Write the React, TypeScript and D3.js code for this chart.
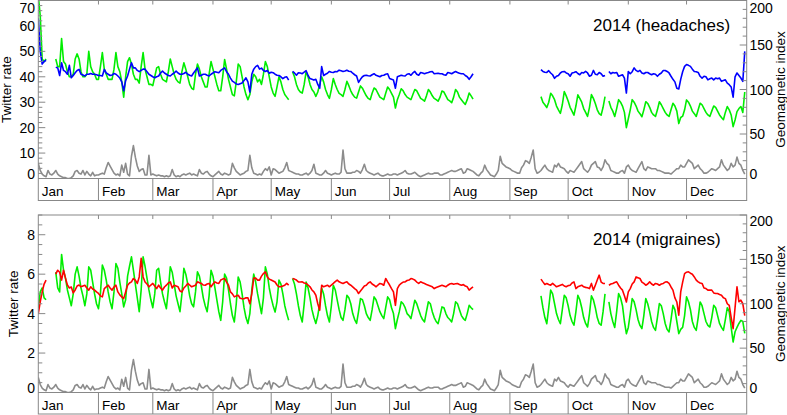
import React from 'react';
import * as d3 from 'd3';

const N = null;

const MONTHS = ['Jan', 'Feb', 'Mar', 'Apr', 'May', 'Jun', 'Jul', 'Aug', 'Sep', 'Oct', 'Nov', 'Dec'];

// Daily values for 2014 (index 0 = Jan 1). null = no data.
const headacheAdjusted: (number | null)[] = [
  63, 50, 45, 46, 46.5, N, N,
  N, N, 43.8, 43.5, 40.5, 45.5, 42.5,
  42, 41, 44.5, 39.6, 40.5, 41.6, 42.5,
  42.9, 41, 40.7, 40.3, 41, 41, 41.3,
  41, 41, 40.8, 40.5, 40.5, 40.3, 42.9,
  41.5, 41, 40.5, 40.7, 41.3, 41, 40.3,
  39.5, 38, 34.5, 38.5, 40.3, 43, 45.5,
  43.5, 43.5, 42.5, 42, 42.5, 43, 43,
  42, 41, 40.5, 40, 39.6, 40, 40.3,
  41.5, 42.2, 41.5, 41, 40.5, 40.3, 41,
  41.5, 42.2, 41.5, 41, 41, 41.3, 41.8,
  41, 40.6, 40.3, 41.5, 42.5, 43.5, 40.3,
  40.6, 41, 41, 40.6, 40.3, 41, 41.5,
  42, 41.8, 41.6, 42.5, 43, 43.5, 42,
  41, 39.5, 38.3, 37.8, 37.2, 37, 37.3,
  37.6, 38.5, 39.6, 38, 34, 41, 43,
  44, 44.5, 43, 43.4, 42.5, 42.1, 42.5,
  41.4, 41.8, 41.6, 41, 40.6, 40.5, 40,
  39.3, 39.8, 40, 38.7, N, 42.1, 41.5,
  40.6, 41.6, 41.5, 41.2, 41.8, 42.4, 40.5,
  39.3, 39, 38.7, 39, 37, 35.5, 44,
  40.5, 41, 41.4, 42.1, 41.8, 41.7, 42.1,
  42, 42.6, 42.4, 42.1, 42.3, 42.6, 42.2,
  42.1, 41.4, 40.8, 40.3, 37.8, 39, 40,
  40.5, 40.6, 40.4, 40.3, 40.8, 41.2, 40.6,
  40.3, 40, 40.5, 40.6, 41, 41.2, 39.3,
  39, 38.7, 35.5, 40, 40.3, 40.6, 40.4,
  40.3, 41, 41.2, 40.6, 41.5, 42.1, 41,
  40.6, 41.7, 41.5, 41.2, 41.5, 41.7, 42,
  42.1, 41.2, 41.3, 41.4, 41.2, 41.2, 40.8,
  40.6, 41.7, 41.5, 41.2, 41.7, 42.1, 41.7,
  41.4, 41.2, 41.2, 40.5, 40, 39, 40,
  41.2, N, N, N, N, N, N,
  N, N, N, N, N, N, N,
  N, N, N, N, N, N, N,
  N, N, N, N, N, N, N,
  N, N, N, N, N, N, N,
  42.8, 42.1, 41.8, 41.7, 42.4, 41.5, 40.8,
  39.4, 40.2, 40.5, 41.5, 42, 42.1, 41.5,
  41.2, 40.2, 41.5, 41.7, 42, 41.3, 40.8,
  41.7, 41.5, 42.1, 41.5, 40.2, 40.6, 42.5,
  41, 40.8, 41.7, 41.2, 40.2, 40.5, N,
  42.1, 41.2, 41.7, 41.5, 41.7, 40.2, 40.5,
  40.8, 39.5, 33.6, 42.1, 41.2, 42, 43.5,
  42.5, 42, 42.5, 41.5, 41.2, 41.7, 41.7,
  41.2, 40.8, 41.2, 41, 40.2, 41, 41.5,
  42.5, 42.5, 42.1, 41.5, 40.2, 39, 38,
  35.5, 35.2, 39, 42, 44.1, 44.8, 44.5,
  44.1, 43, 42.1, 42, 41.7, 40.2, 39.5,
  40.2, 40, 38.8, 39.2, 39.5, 38.8, 39.5,
  39.2, 39.5, 38.2, 38.5, 38.8, 37.5, 36.9,
  36, 32, 40, 41.5, 40.5, 39.5, 38.2,
  50,
];

const headacheRaw: (number | null)[] = [
  72, 64, 47, 46, 47, N, N,
  N, N, 47, 44, 44, 55, 46,
  45, 42, 40, 40, 41, 47, 49,
  47, 42, 40, 40, 41, 50, 44,
  42, 41, 39, 39, 44, 49.5, 43,
  41, 39, 39, 39, 43, 49.5, 44,
  42, 38, 32, 40, 46, 47.5, 45,
  41, 39, 39, 37.5, 44, 49.5, 43,
  40, 37, 37, 36.5, 40, 43.5, 44,
  41, 39, 38.5, 38, 42, 47, 44,
  41, 39, 38, 37.5, 42, 45.5, 43,
  40, 37, 35.5, 35, 41, 45, 43,
  40, 38, 36, 36, 41, 46, 43,
  40, 37, 34.5, 34.5, 40, 46.8, 43,
  39, 36, 33, 32.5, 38, 45, 44,
  40, 36, 33, 31, 33, 38, 41,
  40, 38, 39, 37, 41, 46, 44,
  40, 36, 33.6, 32.3, 36, 40, 38,
  35, 33, 32, 31, N, 42, 40,
  37, 35, 34, 33.6, 37, 42, 40,
  37, 35, 34, 32.3, 34, 37, 40,
  38, 35, 33, 31.5, 35, 39.3, 37,
  35, 33.5, 33, 32.3, 35, 38.2, 36.5,
  34.5, 33, 32, 31.6, 34, 36.4, 35.5,
  34, 32.5, 31.5, 31, 33.5, 35.6, 35,
  33.5, 32, 31.5, 31, 33.5, 36, 35,
  33.5, 32, 27.7, 31, 33, 35.3, 34.5,
  33, 32, 31.5, 31, 33, 35, 34.5,
  33, 31.5, 31, 30.4, 32.5, 35, 34,
  32.5, 31.5, 31, 30.4, 32, 34.4, 34,
  32.5, 31, 30.5, 29.8, 32, 35, 34,
  32, 31, 30, 29.1, 31, 33.6, 32.5,
  31.2, N, N, N, N, N, N,
  N, N, N, N, N, N, N,
  N, N, N, N, N, N, N,
  N, N, N, N, N, N, N,
  N, N, N, N, N, N, N,
  32.2, 30, 29, 27.9, 30, 33.5, 32.5,
  31, 28.5, 27, 25.6, 29, 34.2, 32.5,
  30.5, 28, 26.5, 24.9, 28.5, 32.9, 31.5,
  30, 27.5, 26, 24.4, 28, 33, 31.5,
  29.5, 27, 25.5, 24.9, 28, 32.2, N,
  30.5, 28, 26.5, 24.4, 27.5, 31, 30,
  28.5, 26, 20, 23.5, 27, 31, 30,
  28.5, 26.5, 25.5, 24.3, 27, 30.2, 29.5,
  28, 26, 25, 24.4, 27, 30.2, 29,
  27.5, 26, 25, 24.4, 27, 29.6, 28.5,
  26.5, 21.6, 24, 24.5, 27, 30.9, 30,
  28.5, 26.5, 25.5, 24.4, 27, 29.6, 29,
  27.5, 26, 25, 24.4, 26.5, 28.5, 28,
  26.5, 25, 24, 23.1, 26, 28.3, 27,
  25, 20.4, 23, 26.3, 27.5, 28.3, 26,
  34,
];

const migraineAdjusted: (number | null)[] = [
  4.0, 4.6, 5.1, 5.5, 5.7, N, N,
  N, N, 6.0, 6.2, 6.1, 5.7, 6.2,
  5.8, 5.45, 5.3, 5.35, 5.05, 5.2, 5.4,
  5.45, 5.36, 5.4, 5.44, 5.3, 5.19, 5.36,
  5.25, 5.19, 5.1, 5.02, 4.9, 4.85, 5.27,
  5.35, 5.44, 5.3, 5.19, 5.35, 5.44, 5.1,
  4.95, 4.85, 4.76, 5.1, 5.44, 5.55, 5.61,
  5.78, 5.7, 5.53, 5.86, 6.8, 5.86, 5.6,
  5.5, 5.36, 5.45, 5.53, 5.4, 5.27, 5.44,
  5.3, 5.19, 5.35, 5.44, 5.55, 5.61, 5.3,
  5.44, 5.4, 5.36, 5.15, 5.1, 5.3, 5.4,
  5.53, 5.45, 5.36, 5.4, 5.44, 5.61, 5.57,
  5.53, 5.45, 5.44, 5.5, 5.53, 5.36, 5.5,
  5.61, 5.55, 5.53, 5.7, 5.75, 5.78, 5.6,
  5.44, 5.1, 5.0, 4.85, 4.9, 4.93, 4.78,
  4.76, 4.75, 4.8, 4.8, 4.5, 5.0, 5.8,
  5.8, 5.7, 5.7, 5.9, 6.03, 6.12, 5.86,
  5.75, 5.7, 5.65, 5.6, 5.45, 5.36, 5.36,
  5.4, 5.44, 5.53, 5.44, N, 5.78, 5.75,
  5.7, 5.61, 5.6, 5.61, 5.55, 5.53, 5.45,
  5.36, 5.2, 5.1, 4.93, 4.5, 4.17, 5.44,
  5.36, 5.4, 5.44, 5.36, 5.45, 5.53, 5.62,
  5.7, 5.61, 5.57, 5.53, 5.58, 5.61, 5.5,
  5.44, 5.36, 5.27, 5.19, 5.02, 5.15, 5.27,
  5.4, 5.44, 5.55, 5.61, 5.5, 5.44, 5.36,
  5.45, 5.53, 5.5, 5.44, 5.78, 5.61, 5.45,
  5.27, 5.1, 4.42, 5.27, 5.45, 5.53, 5.6,
  5.61, 5.68, 5.7, 5.78, 5.75, 5.7, 5.6,
  5.53, 5.61, 5.57, 5.53, 5.48, 5.44, 5.4,
  5.36, 5.27, 5.32, 5.36, 5.4, 5.44, 5.4,
  5.36, 5.44, 5.5, 5.53, 5.49, 5.51, 5.53,
  5.48, 5.44, 5.47, 5.4, 5.36, 5.19, 5.28,
  5.36, N, N, N, N, N, N,
  N, N, N, N, N, N, N,
  N, N, N, N, N, N, N,
  N, N, N, N, N, N, N,
  N, N, N, N, N, N, N,
  5.75, 5.61, 5.48, 5.53, 5.48, 5.44, 5.53,
  5.45, 5.36, 5.4, 5.44, 5.48, 5.4, 5.36,
  5.42, 5.44, 5.55, 5.61, 5.27, 5.36, 5.4,
  5.44, 5.36, 5.33, 5.31, 5.27, 5.53, 5.19,
  5.44, 5.7, 5.95, 5.6, 5.53, 5.53, N,
  5.44, 5.5, 5.53, 5.58, 5.61, 5.44, 5.3,
  5.19, 4.9, 4.59, 5.1, 5.27, 5.5, 5.61,
  5.86, 5.82, 5.78, 5.6, 5.53, 5.44, 5.5,
  5.61, 5.5, 5.44, 5.53, 5.5, 5.44, 5.5,
  5.53, 5.6, 5.61, 5.53, 5.35, 5.19, 4.8,
  4.59, 3.92, 5.1, 5.6, 6.03, 6.1, 6.12,
  6.05, 6.0, 5.86, 5.7, 5.61, 5.55, 5.53,
  5.3, 5.27, 5.19, 5.2, 5.19, 5.05, 5.02,
  5.02, 4.97, 4.93, 4.8, 4.76, 4.5, 4.42,
  3.8, 3.24, 4.3, 5.36, 4.6, 4.68, 4.5,
  3.9,
];

const migraineRaw: (number | null)[] = [
  4.3, 5.1, 5.3, 4.8, 4.7, N, N,
  N, N, 6.1, 5.3, 5.1, 7.0, 6.2,
  5.8, 5.2, 4.8, 4.4, 5.0, 6.0, 6.37,
  5.9, 5.3, 4.9, 4.4, 5.0, 6.37, 6.2,
  5.6, 5.0, 4.5, 4.25, 5.0, 6.46, 6.2,
  5.7, 5.1, 4.6, 4.25, 5.1, 6.54, 6.3,
  5.6, 5.0, 4.34, 4.7, 5.9, 6.4, 6.88,
  6.2, 5.5, 4.8, 4.1, 5.2, 6.88, 6.4,
  5.8, 5.2, 4.7, 4.3, 5.0, 6.2, 6.3,
  5.6, 5.0, 4.6, 4.25, 5.2, 6.37, 6.1,
  5.5, 4.9, 4.5, 4.1, 5.0, 6.3, 6.0,
  5.5, 4.9, 4.5, 4.34, 5.1, 6.12, 5.9,
  5.4, 4.8, 4.4, 4.1, 4.9, 6.2, 5.9,
  5.3, 4.7, 4.1, 3.66, 4.6, 6.0, 5.8,
  5.2, 4.5, 3.9, 3.58, 4.5, 5.86, 5.6,
  5.0, 4.3, 3.8, 3.5, 4.0, 5.2, 6.0,
  5.6, 5.0, 4.5, 4.0, 4.8, 6.37, 6.0,
  5.3, 4.8, 4.4, 4.08, 4.6, 5.7, 5.5,
  5.0, 4.4, 4.0, 3.66, N, 5.78, 5.5,
  5.0, 4.4, 3.9, 3.58, 4.5, 5.6, 5.3,
  4.8, 4.2, 3.8, 3.5, 3.9, 4.5, 5.3,
  5.0, 4.4, 3.9, 3.58, 4.4, 5.44, 5.2,
  4.7, 4.2, 3.8, 3.66, 4.2, 4.93, 4.8,
  4.5, 4.0, 3.7, 3.5, 4.1, 4.76, 4.7,
  4.4, 4.0, 3.8, 3.66, 4.2, 4.85, 4.7,
  4.4, 4.1, 3.9, 3.75, 4.3, 4.85, 4.7,
  4.3, 4.0, 3.24, 3.7, 4.1, 4.6, 4.5,
  4.3, 4.0, 3.9, 3.75, 4.2, 4.68, 4.5,
  4.2, 3.9, 3.7, 3.58, 4.1, 4.6, 4.5,
  4.1, 3.8, 3.6, 3.49, 3.9, 4.34, 4.3,
  4.0, 3.8, 3.7, 3.58, 4.0, 4.6, 4.5,
  4.2, 3.9, 3.75, 3.66, 4.0, 4.42, 4.3,
  4.2, N, N, N, N, N, N,
  N, N, N, N, N, N, N,
  N, N, N, N, N, N, N,
  N, N, N, N, N, N, N,
  N, N, N, N, N, N, N,
  4.9, 4.3, 3.8, 3.49, 4.3, 5.19, 5.0,
  4.5, 4.0, 3.7, 3.49, 4.2, 4.93, 4.8,
  4.4, 3.9, 3.6, 3.41, 4.1, 4.93, 4.7,
  4.3, 3.8, 3.5, 3.32, 4.0, 4.9, 4.7,
  4.3, 3.8, 3.5, 3.41, 4.1, 5.0, N,
  4.6, 4.0, 3.6, 3.3, 4.1, 5.02, 4.8,
  4.4, 3.6, 2.98, 3.3, 4.0, 4.76, 4.6,
  4.2, 3.7, 3.4, 3.24, 3.9, 4.76, 4.5,
  4.1, 3.6, 3.3, 3.15, 3.8, 4.51, 4.4,
  4.0, 3.5, 3.2, 3.07, 3.7, 4.42, 4.2,
  3.6, 2.98, 3.2, 3.3, 3.9, 4.85, 4.6,
  4.2, 3.6, 3.3, 3.15, 3.8, 4.59, 4.4,
  4.0, 3.6, 3.4, 3.32, 3.8, 4.42, 4.3,
  3.9, 3.5, 3.3, 3.15, 3.7, 4.3, 4.1,
  3.3, 2.56, 3.08, 3.3, 3.5, 3.66, 3.6,
  3.0,
];

const geomagneticIndex: number[] = [
  17, 9, 5, 3, 2, 9, 5, 4, 6, 9,
  5, 3, 2, 1, 1, 0, 0, 1, 3, 8,
  9, 6, 5, 9, 4, 8, 5, 3, 7, 3,
  4, 4, 5, 6, 5, 12, 18, 14, 10, 6,
  4, 5, 3, 15, 7, 17, 5, 3, 25, 37,
  24, 14, 8, 10, 11, 4, 4, 26, 4, 5,
  4, 3, 4, 3, 3, 2, 3, 2, 3, 10,
  4, 2, 3, 2, 4, 5, 4, 5, 6, 4,
  5, 4, 3, 10, 6, 5, 7, 8, 5, 3,
  2, 4, 6, 8, 5, 4, 6, 5, 4, 5,
  17, 12, 8, 6, 4, 5, 6, 8, 9, 26,
  12, 6, 5, 4, 5, 4, 8, 11, 9, 13,
  4, 11, 10, 8, 6, 7, 8, 12, 18, 9,
  8, 7, 6, 5, 5, 4, 4, 5, 6, 4,
  6, 9, 16, 6, 5, 4, 4, 6, 9, 6,
  5, 4, 5, 6, 5, 5, 7, 32, 11, 6,
  6, 6, 7, 7, 9, 8, 6, 10, 16, 9,
  7, 6, 5, 4, 5, 6, 4, 3, 3, 4,
  5, 4, 4, 5, 5, 4, 5, 6, 7, 9,
  6, 5, 5, 6, 7, 5, 3, 2, 3, 4,
  5, 6, 5, 5, 6, 6, 6, 4, 4, 5,
  6, 7, 8, 9, 8, 8, 9, 10, 11, 6,
  7, 11, 10, 9, 8, 6, 4, 3, 6, 8,
  15, 10, 7, 4, 3, 2, 5, 9, 25, 17,
  15, 13, 12, 11, 9, 8, 7, 6, 6, 12,
  15, 20, 19, 17, 24, 32, 11, 6, 7, 9,
  12, 15, 11, 9, 8, 7, 15, 13, 17, 13,
  12, 11, 8, 6, 9, 8, 7, 10, 13, 16,
  19, 11, 9, 7, 10, 15, 17, 19, 13, 12,
  9, 13, 21, 17, 15, 9, 8, 7, 6, 6,
  8, 9, 6, 13, 15, 11, 9, 8, 7, 11,
  15, 19, 11, 9, 13, 12, 11, 11, 11, 9,
  9, 8, 7, 6, 6, 6, 5, 7, 9, 11,
  11, 15, 13, 13, 17, 21, 19, 17, 11, 13,
  15, 11, 9, 6, 6, 7, 9, 11, 10, 9,
  11, 13, 21, 15, 12, 9, 11, 17, 13, 15,
  24, 17, 15, 9, 5,
];

const headacheLeftTicks = [0, 10, 20, 30, 40, 50, 60, 70];
const migraineLeftTicks = [0, 2, 4, 6, 8];
const rightTicks = [0, 50, 100, 150, 200];

const FONT = "'Liberation Sans', Arial, Helvetica, sans-serif";
const X0 = 38.3;
const X1 = 746.7;
const FRAME = '#888888';

const start = new Date(Date.UTC(2014, 0, 1));
const end = new Date(Date.UTC(2015, 0, 1));
const dayDate = (i: number) => new Date(Date.UTC(2014, 0, 1 + i));

type PanelProps = {
  id: string;
  top: number;
  bottom: number;
  band: number;
  leftMax: number;
  leftTicks: number[];
  leftMinor: number;
  title: string;
  leftTitleX: number;
  primary: (number | null)[];
  primaryColor: string;
  raw: (number | null)[];
};

function Panel(p: PanelProps) {
  const x = d3.scaleUtc().domain([start, end]).range([X0, X1]);
  const yL = d3.scaleLinear().domain([0, p.leftMax]).range([p.bottom, p.top]);
  const yR = d3.scaleLinear().domain([0, 200]).range([p.bottom, p.top]);
  const months = d3.utcMonths(start, end);

  const lineL = d3
    .line<number | null>()
    .defined((v) => v != null)
    .x((_, i) => x(dayDate(i)))
    .y((v) => yL(v as number));
  const lineR = d3
    .line<number>()
    .x((_, i) => x(dayDate(i)))
    .y((v) => yR(v));

  // keep tick labels inside the plot's vertical extent and inside the page
  const minCenter = Math.max(p.top + 5.5, 8);
  const clampY = (y: number) => Math.max(minCenter, Math.min(p.bottom - 4.5, y));

  const leftMinorTicks = d3.range(0, p.leftMax + 1e-9, p.leftMinor).filter(
    (v) => !p.leftTicks.some((t) => Math.abs(t - v) < 1e-9)
  );
  const rightMinorTicks = d3.range(0, 200.001, 10).filter((v) => v % 50 !== 0);

  return (
    <g>
      <defs>
        <clipPath id={p.id}>
          <rect x={X0} y={p.top} width={X1 - X0} height={p.bottom - p.top} />
        </clipPath>
      </defs>
      <g clipPath={`url(#${p.id})`} fill="none" strokeLinejoin="round">
        <path d={lineR(geomagneticIndex) || ''} stroke="#8c8c8c" strokeWidth={1.6} />
        <path d={lineL(p.raw) || ''} stroke="#00ee00" strokeWidth={1.6} />
        <path d={lineL(p.primary) || ''} stroke={p.primaryColor} strokeWidth={1.6} />
      </g>
      <rect x={X0} y={p.top} width={X1 - X0} height={p.band - p.top} fill="none" stroke={FRAME} strokeWidth={1} />
      <line x1={X0} x2={X1} y1={p.bottom} y2={p.bottom} stroke={FRAME} strokeWidth={1} />
      {months.map((m, i) => (
        <g key={i}>
          {i > 0 && (
            <>
              <line x1={x(m)} x2={x(m)} y1={p.bottom} y2={p.band} stroke={FRAME} />
              <line x1={x(m)} x2={x(m)} y1={p.top} y2={p.top + 4} stroke={FRAME} />
            </>
          )}
          <text x={x(m) + 3.5} y={p.band - 4.5} fontFamily={FONT} fontSize={13.5} fill="#000">
            {MONTHS[i]}
          </text>
        </g>
      ))}
      {p.leftTicks.map((t) => (
        <g key={'l' + t}>
          <line x1={X0} x2={X0 + 7} y1={yL(t)} y2={yL(t)} stroke={FRAME} />
          <text x={35} y={clampY(yL(t))} dy="0.36em" textAnchor="end" fontFamily={FONT} fontSize={14} fill="#000">
            {t}
          </text>
        </g>
      ))}
      {leftMinorTicks.map((t) => (
        <line key={'lm' + t} x1={X0} x2={X0 + 4} y1={yL(t)} y2={yL(t)} stroke={FRAME} />
      ))}
      {rightTicks.map((t) => (
        <g key={'r' + t}>
          <line x1={X1} x2={X1 - 7} y1={yR(t)} y2={yR(t)} stroke={FRAME} />
          <text x={749.5} y={clampY(yR(t))} dy="0.36em" fontFamily={FONT} fontSize={14} fill="#000">
            {t}
          </text>
        </g>
      ))}
      {rightMinorTicks.map((t) => (
        <line key={'rm' + t} x1={X1} x2={X1 - 4} y1={yR(t)} y2={yR(t)} stroke={FRAME} />
      ))}
      <text
        transform={`translate(${p.leftTitleX},${(p.top + p.bottom) / 2}) rotate(-90)`}
        textAnchor="middle"
        fontFamily={FONT}
        fontSize={13.5}
        fill="#000"
      >
        Twitter rate
      </text>
      <text
        transform={`translate(784.5,${(p.top + p.bottom) / 2}) rotate(-90)`}
        textAnchor="middle"
        fontFamily={FONT}
        fontSize={13.5}
        fill="#000"
      >
        Geomagnetic index
      </text>
      <text x={593} y={p.top + 30} fontFamily={FONT} fontSize={17} fill="#000">
        {p.title}
      </text>
    </g>
  );
}

export default function App() {
  return (
    <svg width={787} height={415} style={{ position: 'absolute', left: 0, top: 0, background: '#fff' }}>
      <rect x={0} y={0} width={787} height={415} fill="#fff" />
      <Panel
        id="clipTop"
        top={0.5}
        bottom={178.5}
        band={200.5}
        leftMax={70}
        leftTicks={headacheLeftTicks}
        leftMinor={2}
        title="2014 (headaches)"
        leftTitleX={11}
        primary={headacheAdjusted}
        primaryColor="#0000ff"
        raw={headacheRaw}
      />
      <Panel
        id="clipBottom"
        top={215}
        bottom={392.5}
        band={414}
        leftMax={9}
        leftTicks={migraineLeftTicks}
        leftMinor={0.5}
        title="2014 (migraines)"
        leftTitleX={18}
        primary={migraineAdjusted}
        primaryColor="#ff0000"
        raw={migraineRaw}
      />
    </svg>
  );
}
